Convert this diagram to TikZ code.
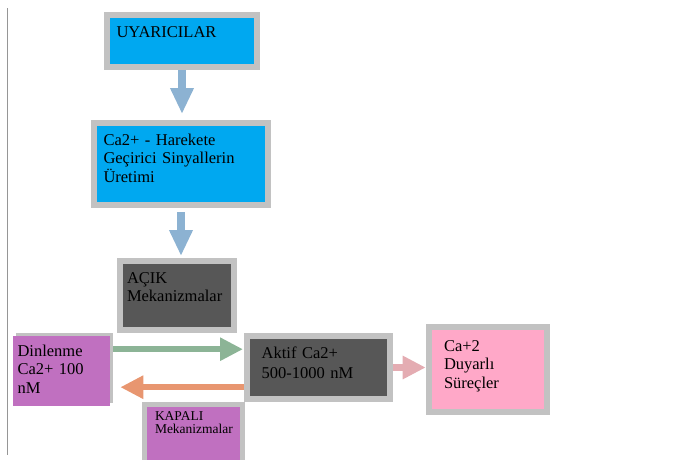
\documentclass[tikz,border=0pt]{standalone}
\usepackage{fontspec}
\setmainfont{Liberation Serif}
\usepackage{tikz}
\usetikzlibrary{arrows.meta,shadows}

\definecolor{boxgray}{RGB}{194,194,194}
\definecolor{edgegray}{RGB}{150,150,150}
\definecolor{stimblue}{RGB}{0,168,240}
\definecolor{mechgray}{RGB}{87,87,87}
\definecolor{restpurple}{RGB}{192,112,192}
\definecolor{sensepink}{RGB}{255,168,200}
\definecolor{flowblue}{RGB}{140,178,210}
\definecolor{flowgreen}{RGB}{140,180,150}
\definecolor{floworange}{RGB}{232,150,112}
\definecolor{flowpink}{RGB}{228,172,178}

\begin{document}
\begin{tikzpicture}[
    x=1pt,y=-1pt,
    box/.style={rectangle,draw=boxgray,line width=6pt,anchor=north west,
                align=left,text height=12pt,inner xsep=9.5pt,inner ysep=10pt,
                font=\fontsize{16.5}{18.5}\selectfont},
    restbox/.style={rectangle,fill=restpurple,anchor=north west,
                    align=left,text height=12pt,inner xsep=4.6pt,inner ysep=8pt,
                    font=\fontsize{16.5}{18.5}\selectfont,
                    drop shadow={shadow xshift=3pt,shadow yshift=3pt,fill=boxgray,opacity=1}},
    flow/.style={draw=flowblue,line width=8pt,-{Triangle[width=22pt,length=26pt]}},
    side/.style={line width=6.5pt,-{Triangle[width=22pt,length=23pt]}}
]
\useasboundingbox (0,0) rectangle (689,459);
\clip (0,0) rectangle (689,459);

\draw[edgegray,line width=1pt] (7,8) -- (7,455);

\node[box,fill=stimblue,text width=131pt,text depth=20pt] (uyari) at (104,12) {UYARICILAR};
\node[box,fill=stimblue,text width=155pt,text depth=50pt] (uretim) at (91,120) {Ca2+ - Harekete\\Geçirici Sinyallerin\\Üretimi};
\node[box,fill=mechgray,inner xsep=7pt,text width=100pt,text depth=37pt] (acik) at (117,258) {AÇIK\\Mekanizmalar};
\node[restbox,text width=88pt,text depth=42pt] (dinlenme) at (12.7,336) {Dinlenme\\Ca2+ 100\\nM};
\node[box,fill=mechgray,inner xsep=14.7pt,text width=113.6pt,text depth=31pt,
      font=\fontsize{16.5}{20}\selectfont] (aktif) at (244,333) {Aktif Ca2+\\500-1000 nM};
\node[box,fill=sensepink,inner xsep=15.3pt,inner ysep=12pt,text width=87.7pt,text depth=49pt] (duyarli) at (425.7,324) {Ca+2\\Duyarlı\\Süreçler};
\node[box,fill=restpurple,line width=5pt,inner xsep=10.8pt,inner ysep=6pt,text height=10.5pt,
      text width=76.7pt,text depth=43pt,font=\fontsize{13.5}{12.5}\selectfont] (kapali) at (141.7,401.7) {KAPALI\\Mekanizmalar};

\draw[flow,shorten >=6pt] (uyari.south) -- (uyari.south |- uretim.north);
\draw[flow,shorten <=4pt,shorten >=2pt] (uretim.south) -- (uretim.south |- acik.north);
\draw[side,draw=flowgreen,shorten <=3pt,shorten >=1pt] ([yshift=22pt]dinlenme.east) -- ([yshift=22pt]dinlenme.east -| aktif.west);
\draw[side,draw=floworange,shorten >=10pt] ([yshift=-16pt]dinlenme.east -| aktif.west) -- ([yshift=-16pt]dinlenme.east);
\draw[side,draw=flowpink] (aktif.east) -- (aktif.east -| duyarli.west);
\end{tikzpicture}
\end{document}
